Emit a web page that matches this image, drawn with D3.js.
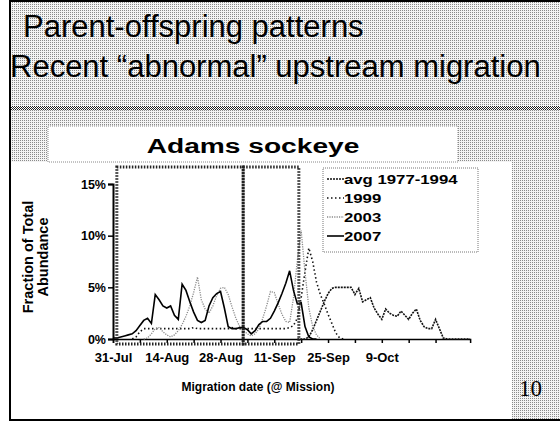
<!DOCTYPE html>
<html>
<head>
<meta charset="utf-8">
<script src="https://cdn.jsdelivr.net/npm/d3@7"></script>
<style>
  body { margin: 0; background: #fff; }
  svg { display: block; font-family: "Liberation Sans", Arial, sans-serif; }
</style>
</head>
<body>
<div id="chart"></div>
<script>
// slide texts
var slideTitle1 = "Parent-offspring patterns";
var slideTitle2 = "Recent \u201cabnormal\u201d upstream migration";
var chartTitle = "Adams sockeye";
var xTitle = "Migration date (@ Mission)";
var yTitle = ["Fraction of Total", "Abundance"];
var slideNumber = "10";

// x categories are days counted from 31-Jul
var tickLabels = ["31-Jul", "14-Aug", "28-Aug", "11-Sep", "25-Sep", "9-Oct"];
var labelDays = [0, 14, 28, 42, 56, 70];
var lastDay = 93;
var yTicks = [0, 5, 10, 15];

// highlighted day ranges (the two dotted boxes)
var boxRanges = [[1, 33.9], [33.9, 48.4]];

// series values in %, each starting at its first day
var seriesNames = ["avg 1977-1994", "1999", "2003", "2007"];

var avgStart = 48;
var avgValues = [0, 0, 0, 0.2, 0.9, 1.8, 2.7, 3.6, 4.4, 4.9, 5.0, 5.0, 5.0, 5.0,
  5.0, 4.3, 4.9, 3.6, 3.8, 4.0, 3.0, 2.4, 1.9, 2.9, 2.5, 2.3, 2.2, 2.7, 2.3,
  1.9, 2.5, 2.9, 1.8, 1.2, 1.0, 1.0, 1.9, 1.0, 0.1, 0, 0, 0, 0, 0, 0, 0];

var y1999Start = 5;
var y1999Values = [0, 0.2, 0.7, 1.0, 1.0, 1.0, 1.0, 1.0, 1.0, 1.0, 1.0, 1.0,
  1.0, 1.0, 1.0, 1.0, 1.1, 1.0, 1.0, 1.0, 1.0, 1.0, 1.0, 1.0, 1.0, 1.0, 1.1,
  1.0, 1.0, 1.0, 1.0, 1.0, 1.0, 1.0, 1.0, 1.0, 1.0, 1.0, 1.0, 1.0, 1.0, 1.1,
  1.3, 2.0, 4.0, 6.5, 8.8, 7.5, 5.5, 4.3, 3.4, 2.4, 1.5, 0.6, 0.1, 0];

var y2003Start = 8;
var y2003Values = [0, 0.1, 0.5, 1.0, 1.1, 0.7, 0.4, 0.2, 0.4, 0.8, 1.4, 2.2,
  3.2, 4.5, 6.0, 3.8, 2.9, 2.5, 3.2, 4.2, 4.9, 5.0, 4.3, 3.1, 2.0, 1.2, 0.8,
  0.5, 0.3, 0.5, 1.0, 2.0, 3.2, 4.6, 4.5, 3.4, 2.4, 1.7, 1.6, 4.0, 7.6, 10.5,
  6.5, 3.0, 1.2, 0.4, 0];

var y2007Start = 0;
var y2007Values = [0.1, 0.1, 0.2, 0.3, 0.4, 0.5, 0.8, 1.3, 1.8, 2.0, 1.5, 4.3,
  3.8, 3.2, 3.0, 3.2, 2.3, 1.9, 5.3, 4.7, 3.6, 2.6, 1.8, 1.6, 1.8, 3.2, 4.0,
  4.4, 4.6, 3.0, 1.2, 1.0, 1.0, 1.1, 1.1, 0.9, 0.5, 0.8, 1.4, 1.7, 1.7, 2.0,
  2.7, 3.5, 4.4, 5.4, 6.6, 4.7, 3.4, 3.5, 1.2, 0.2, 0, 0];

var series = [
  {name: seriesNames[0], start: avgStart, values: avgValues, color: "#111", width: 1.6, dash: "2,1"},
  {name: seriesNames[1], start: y1999Start, values: y1999Values, color: "#111", width: 1.6, dash: "1.5,2.5"},
  {name: seriesNames[2], start: y2003Start, values: y2003Values, color: "#8a8a8a", width: 1.3, dash: "1.2,1.2"},
  {name: seriesNames[3], start: y2007Start, values: y2007Values, color: "#000", width: 1.6, dash: null}
];

var W = 560, H = 423;

var svg = d3.select("#chart").append("svg")
    .attr("width", W)
    .attr("height", H);

// dithered gray fills like the scanned slide
var defs = svg.append("defs");
var dots = defs.append("pattern")
    .attr("id", "dots")
    .attr("width", 2).attr("height", 2)
    .attr("patternUnits", "userSpaceOnUse");
dots.append("rect").attr("width", 2).attr("height", 2).attr("fill", "#f4f4f4");
dots.append("rect").attr("width", 1).attr("height", 1).attr("fill", "#8a8a8a");

var checker = defs.append("pattern")
    .attr("id", "checker")
    .attr("width", 2).attr("height", 2)
    .attr("patternUnits", "userSpaceOnUse");
checker.append("rect").attr("width", 2).attr("height", 2).attr("fill", "#fff");
checker.append("rect").attr("width", 1).attr("height", 1).attr("fill", "#222");
checker.append("rect").attr("x", 1).attr("y", 1).attr("width", 1).attr("height", 1).attr("fill", "#222");

// slide background
svg.append("rect")
    .attr("x", 10).attr("y", 0)
    .attr("width", W - 10).attr("height", 420)
    .attr("fill", "url(#dots)");

// separator band under the title
svg.append("rect")
    .attr("x", 10).attr("y", 106)
    .attr("width", W - 10).attr("height", 4)
    .attr("fill", "url(#checker)");

// white chart area
svg.append("rect")
    .attr("x", 11).attr("y", 162)
    .attr("width", 501).attr("height", 257)
    .attr("fill", "#fff");

// chart title box
svg.append("rect")
    .attr("x", 48).attr("y", 126)
    .attr("width", 410).attr("height", 36)
    .attr("fill", "#fff")
    .attr("stroke", "#888")
    .attr("stroke-dasharray", "1,1");

// slide frame
svg.append("line").attr("x1", 10).attr("x2", 10).attr("y1", 0).attr("y2", 421)
    .attr("stroke", "#000").attr("stroke-width", 2);
svg.append("line").attr("x1", 10).attr("x2", W).attr("y1", 1).attr("y2", 1)
    .attr("stroke", "#000").attr("stroke-width", 2);
svg.append("line").attr("x1", 10).attr("x2", W).attr("y1", 420).attr("y2", 420)
    .attr("stroke", "#000").attr("stroke-width", 2);

// slide titles
svg.append("text")
    .attr("x", 23).attr("y", 37)
    .style("font-size", "31px")
    .text(slideTitle1);
svg.append("text")
    .attr("x", 10).attr("y", 77)
    .style("font-size", "31px")
    .text(slideTitle2);

// chart title, horizontally stretched like the pasted picture
svg.append("text")
    .attr("transform", "translate(253,153) scale(1.34,1)")
    .attr("text-anchor", "middle")
    .style("font-size", "21px")
    .style("font-weight", "bold")
    .text(chartTitle);

// scales
var x = d3.scaleLinear().domain([0, lastDay]).range([113, 113 + 3.84 * lastDay]);
var y = d3.scaleLinear().domain([0, 15]).range([339, 184]);

var tickDays = d3.range(0, 85, 7);

// x axis
var xAxis = svg.append("g")
    .attr("transform", "translate(0," + y(0) + ")")
    .call(d3.axisBottom(x)
        .tickValues(tickDays)
        .tickSize(4)
        .tickFormat(function(d) {
            var i = labelDays.indexOf(d);
            return i >= 0 ? tickLabels[i] : "";
        }));
xAxis.select(".domain").attr("stroke", "#000").attr("stroke-width", 1.5);
xAxis.selectAll(".tick line").attr("stroke", "#000").attr("stroke-width", 1.5);
xAxis.selectAll(".tick text")
    .attr("dy", "1.25em")
    .style("font-family", "Liberation Sans, Arial, sans-serif")
    .style("font-size", "13px")
    .style("font-weight", "bold")
    .attr("fill", "#000");

// y axis
var yAxis = svg.append("g")
    .attr("transform", "translate(" + x(0) + ",0)")
    .call(d3.axisLeft(y)
        .tickValues(yTicks)
        .tickSize(5)
        .tickFormat(function(d) { return d + "%"; }));
yAxis.select(".domain").attr("stroke", "#000").attr("stroke-width", 2);
yAxis.selectAll(".tick line").attr("stroke", "#000").attr("stroke-width", 1.5);
yAxis.selectAll(".tick text")
    .attr("x", -7)
    .style("font-family", "Liberation Sans, Arial, sans-serif")
    .style("font-size", "12.5px")
    .style("font-weight", "bold")
    .attr("fill", "#000");

// axis titles
svg.append("text")
    .attr("transform", "translate(33,257) rotate(-90)")
    .attr("text-anchor", "middle")
    .style("font-size", "14.5px")
    .style("font-weight", "bold")
    .text(yTitle[0]);
svg.append("text")
    .attr("transform", "translate(48,257) rotate(-90)")
    .attr("text-anchor", "middle")
    .style("font-size", "14.5px")
    .style("font-weight", "bold")
    .text(yTitle[1]);

svg.append("text")
    .attr("x", 258).attr("y", 391)
    .attr("text-anchor", "middle")
    .style("font-size", "12px")
    .style("font-weight", "bold")
    .text(xTitle);

// series lines
var line = d3.line()
    .x(function(d) { return x(d.day); })
    .y(function(d) { return y(d.value); });

series.forEach(function(s) {
    var pts = s.values.map(function(v, i) { return {day: s.start + i, value: v}; });
    svg.append("path")
        .datum(pts)
        .attr("d", line)
        .attr("fill", "none")
        .attr("stroke", s.color)
        .attr("stroke-width", s.width)
        .attr("stroke-dasharray", s.dash);
});

// highlight boxes
boxRanges.forEach(function(r) {
    svg.append("rect")
        .attr("x", x(r[0])).attr("y", 167)
        .attr("width", x(r[1]) - x(r[0]))
        .attr("height", 344 - 167)
        .attr("fill", "none")
        .attr("stroke", "#222")
        .attr("stroke-width", 3)
        .attr("stroke-dasharray", "1.5,1.5");
});

// legend
var legend = svg.append("g").attr("transform", "translate(323,168)");
legend.append("rect")
    .attr("width", 155).attr("height", 84)
    .attr("fill", "#fff")
    .attr("stroke", "#777")
    .attr("stroke-dasharray", "1,1");
series.forEach(function(s, i) {
    var row = legend.append("g").attr("transform", "translate(0," + (11 + i * 19) + ")");
    row.append("line")
        .attr("x1", 4).attr("x2", 21)
        .attr("stroke", s.color)
        .attr("stroke-width", s.width)
        .attr("stroke-dasharray", s.dash);
    row.append("text")
        .attr("transform", "translate(21,5) scale(1.34,1)")
        .style("font-size", "12.5px")
        .style("font-weight", "bold")
        .text(s.name);
});

// slide number
svg.append("text")
    .attr("x", 519).attr("y", 396)
    .style("font-family", "Liberation Serif, Times New Roman, serif")
    .style("font-size", "23px")
    .text(slideNumber);
</script>
</body>
</html>
